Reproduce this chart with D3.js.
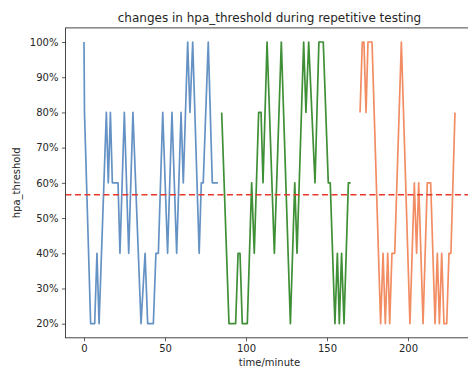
<!DOCTYPE html>
<html><head><meta charset="utf-8">
<script src="https://cdn.jsdelivr.net/npm/d3@7"></script>
<style>body{margin:0;background:#fff}svg{display:block}text{font-family:"DejaVu Sans",sans-serif;fill:#262626}</style>
</head><body>
<script>
// series: [minute, threshold %]
const blueT = [0,0.3,4.1,6.6,8.0,9.3,13.8,15,16.3,17.5,21,22.2,24.9,27.6,30.2,35.2,37.7,39.3,42.8,44.4,45.9,48.6,51.6,54.3,57.2,59.9,61.3,64,65.4,67.1,71.1,72.4,73.6,76.7,79.2,82.7];
const blueV = [100,80,20,20,40,20,80,60,80,60,60,40,80,40,80,20,40,20,20,40,40,80,40,80,40,80,60,100,80,100,40,60,60,100,60,60];
const greenT = [85,89.5,93.6,95.1,96.3,97.7,100.8,103.5,105.1,107.8,109.3,110.5,113,117.5,121.8,127.4,130.1,131.5,135.6,137,138.7,142.6,145,147.7,150.8,152,154.9,156.4,157.6,159,160.5,163.2,164.6];
const greenV = [80,20,20,40,40,20,20,60,40,80,80,60,100,40,100,20,60,40,100,80,100,60,100,100,60,60,20,40,20,40,20,60,60];
const orangeT = [170.4,171.8,172.8,174.1,175.3,177.8,183.1,184.6,186,187.5,188.7,190.1,191.8,195.9,201.2,203.9,205.3,206.6,209.3,211.9,214,216.7,218.1,219.4,220.8,222.2,223.9,225.3,226.5,229];
const orangeV = [80,100,100,80,100,100,20,40,20,40,20,40,40,100,20,60,40,60,20,60,60,20,40,20,40,20,20,40,40,80];
const threshold = 56.6;
const yTicks = [20,30,40,50,60,70,80,90,100];
const xTicks = [0,50,100,150,200];

const W = 468, H = 369;
const svg = d3.select("body").append("svg").attr("width", W).attr("height", H);
const x = d3.scaleLinear().domain([-11.45, 240.45]).range([84 - 11.45*1.62, 84 + 240.45*1.62]);
const y = d3.scaleLinear().domain([16, 104]).range([337.8, 27.9]);
const [x0, x1] = x.range(), [y0, y1] = y.range();

svg.append("defs").append("clipPath").attr("id","c").append("rect")
  .attr("x", x0).attr("y", y1).attr("width", x1 - x0).attr("height", y0 - y1);

const g = svg.append("g").attr("clip-path","url(#c)");
const line = d3.line().x(d => x(d[0])).y(d => y(d[1]));
const series = [[blueT, blueV, "#6592c4"], [greenT, greenV, "#3f8f36"], [orangeT, orangeV, "#f28d63"]];
series.forEach(([t, v, c]) => {
  g.append("path").datum(t.map((d, i) => [d, v[i]])).attr("d", line)
    .attr("fill","none").attr("stroke", c).attr("stroke-width", 1.7).attr("stroke-linejoin","round");
});
g.append("line").attr("x1", x0).attr("x2", x1).attr("y1", y(threshold)).attr("y2", y(threshold))
  .attr("stroke","#e8372a").attr("stroke-width",1.6).attr("stroke-dasharray","6,3.5");

// spines
svg.append("rect").attr("x", x0).attr("y", y1).attr("width", x1 - x0).attr("height", y0 - y1)
  .attr("fill","none").attr("stroke","#333").attr("stroke-width",0.9);

const xa = svg.append("g").attr("transform", `translate(0,${y0})`)
  .call(d3.axisBottom(x).tickValues(xTicks).tickSize(3.5).tickPadding(3.5).tickFormat(d3.format("d")));
const ya = svg.append("g").attr("transform", `translate(${x0},0)`)
  .call(d3.axisLeft(y).tickValues(yTicks).tickSize(3.5).tickPadding(3.5).tickFormat(d => d + "%"));
[xa, ya].forEach(a => {
  a.select(".domain").remove();
  a.selectAll("line").attr("stroke","#333").attr("stroke-width",0.8);
  a.selectAll("text").attr("font-size", 10).attr("font-family","DejaVu Sans").attr("fill","#262626");
});

const cx = (x0 + x1) / 2;
svg.append("text").attr("x", cx).attr("y", 22).attr("text-anchor","middle").attr("font-size",12).text("changes in hpa_threshold during repetitive testing");
svg.append("text").attr("x", cx).attr("y", 366).attr("text-anchor","middle").attr("font-size",10).text("time/minute");
svg.append("text").attr("transform",`translate(20,${(y0+y1)/2}) rotate(-90)`).attr("text-anchor","middle").attr("font-size",10).text("hpa_threshold");
</script>
</body></html>
